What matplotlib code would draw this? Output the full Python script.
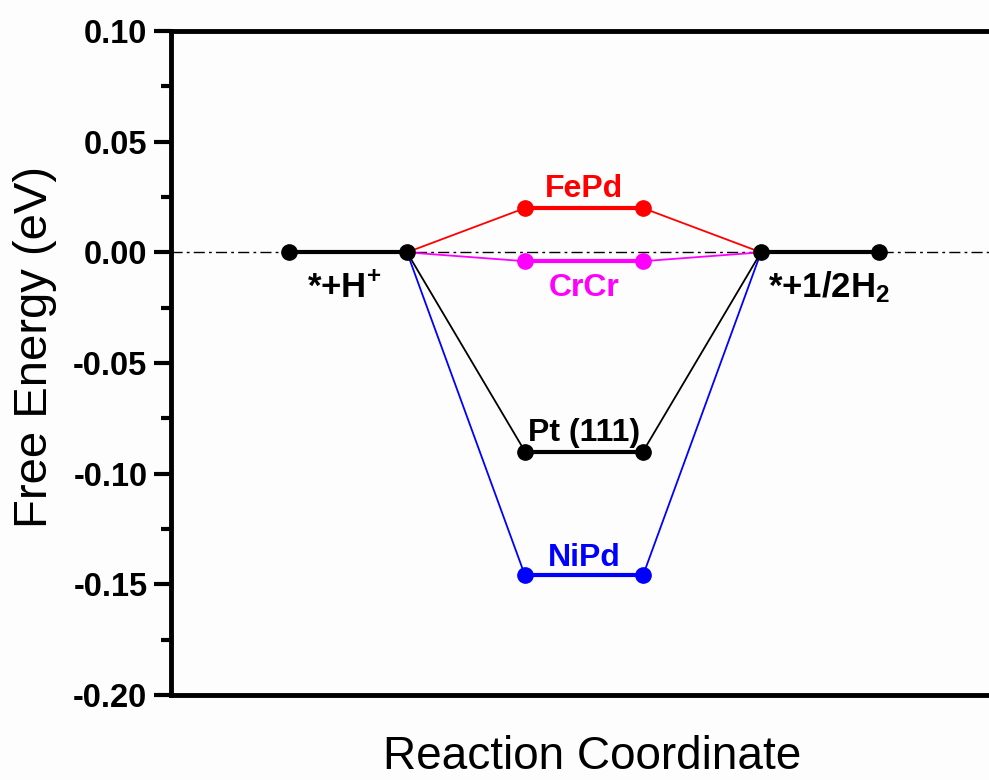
import matplotlib
matplotlib.use("Agg")
import matplotlib.pyplot as plt
from matplotlib.ticker import MultipleLocator

plt.rcParams['font.family'] = ['Liberation Sans', 'DejaVu Sans']
plt.rcParams['mathtext.fontset'] = 'custom'
plt.rcParams['mathtext.rm'] = 'Liberation Sans'
plt.rcParams['mathtext.bf'] = 'Liberation Sans:bold'
plt.rcParams['mathtext.it'] = 'Liberation Sans:italic'

steps = [1, 2, 3, 4, 5, 6]
series_names = ["FePd", "CrCr", "Pt (111)", "NiPd"]
series_colors = ["#FF0000", "#FF00FF", "#000000", "#0000FF"]
intermediate = [0.020, -0.004, -0.090, -0.146]
initial_level = 0.0
final_level = 0.0
label_offsets = [0.0048, -0.0159, 0.0046, 0.0042]
yticks = [-0.20, -0.15, -0.10, -0.05, 0.00, 0.05, 0.10]

W, H = 989, 780
fig = plt.figure(figsize=(W/100, H/100), dpi=100)
ax = fig.add_axes([171/W, 1 - 695/H, (997 - 171)/W, (695 - 31)/H])

ax.axhline(0, color='black', lw=1.0, ls=(0, (8, 3, 2, 3)), zorder=1)

for name, col, val, off in zip(series_names, series_colors, intermediate, label_offsets):
    ys = [initial_level, initial_level, val, val, final_level, final_level]
    ax.plot(steps[1:3], ys[1:3], color=col, lw=1.3, zorder=2)
    ax.plot(steps[3:5], ys[3:5], color=col, lw=1.3, zorder=2)
    ax.plot(steps[2:4], ys[2:4], color=col, lw=3, zorder=3)
    ax.plot(steps[2:4], ys[2:4], 'o', color=col, ms=11, zorder=4)
    ax.text(3.5, val + off, name, color=col, fontsize=23, fontweight='bold',
            ha='center', va='baseline', zorder=5)

ax.plot(steps[0:2], [initial_level]*2, color='black', lw=3, zorder=3)
ax.plot(steps[4:6], [final_level]*2, color='black', lw=3, zorder=3)
ax.plot(steps[0:2], [initial_level]*2, 'o', color='black', ms=11, zorder=6)
ax.plot(steps[4:6], [final_level]*2, 'o', color='black', ms=11, zorder=6)

ax.text(1.153, -0.0203, r'*+H$\mathbf{^{+}}$', fontsize=25, fontweight='bold',
        ha='left', va='baseline')
ax.text(5.059, -0.0203, r'*+1/2H$\mathbf{_2}$', fontsize=25, fontweight='bold',
        ha='left', va='baseline')

ax.set_xlim(0, 7)
ax.set_ylim(-0.20, 0.10)
ax.set_yticks(yticks)
ax.yaxis.set_minor_locator(MultipleLocator(0.025))
ax.set_yticklabels([f"{v:.2f}" for v in yticks], fontsize=23.5, fontweight='bold')
ax.tick_params(axis='y', which='major', direction='out', length=12, width=3, pad=5)
ax.tick_params(axis='y', which='minor', direction='out', length=7, width=3)
ax.set_xticks([])
for s in ['left', 'top', 'bottom', 'right']:
    ax.spines[s].set_linewidth(3.5)

fig.text(35/W, 1 - 347/H, 'Free Energy (eV)', fontsize=34, rotation=90,
         ha='center', va='center')
fig.text(592/W, 1 - 769/H, 'Reaction Coordinate', fontsize=33,
         ha='center', va='baseline')

fig.patch.set_facecolor('#FDFDFD')
ax.set_facecolor('#FDFDFD')
fig.savefig('out.png', dpi=100, facecolor=fig.get_facecolor())
